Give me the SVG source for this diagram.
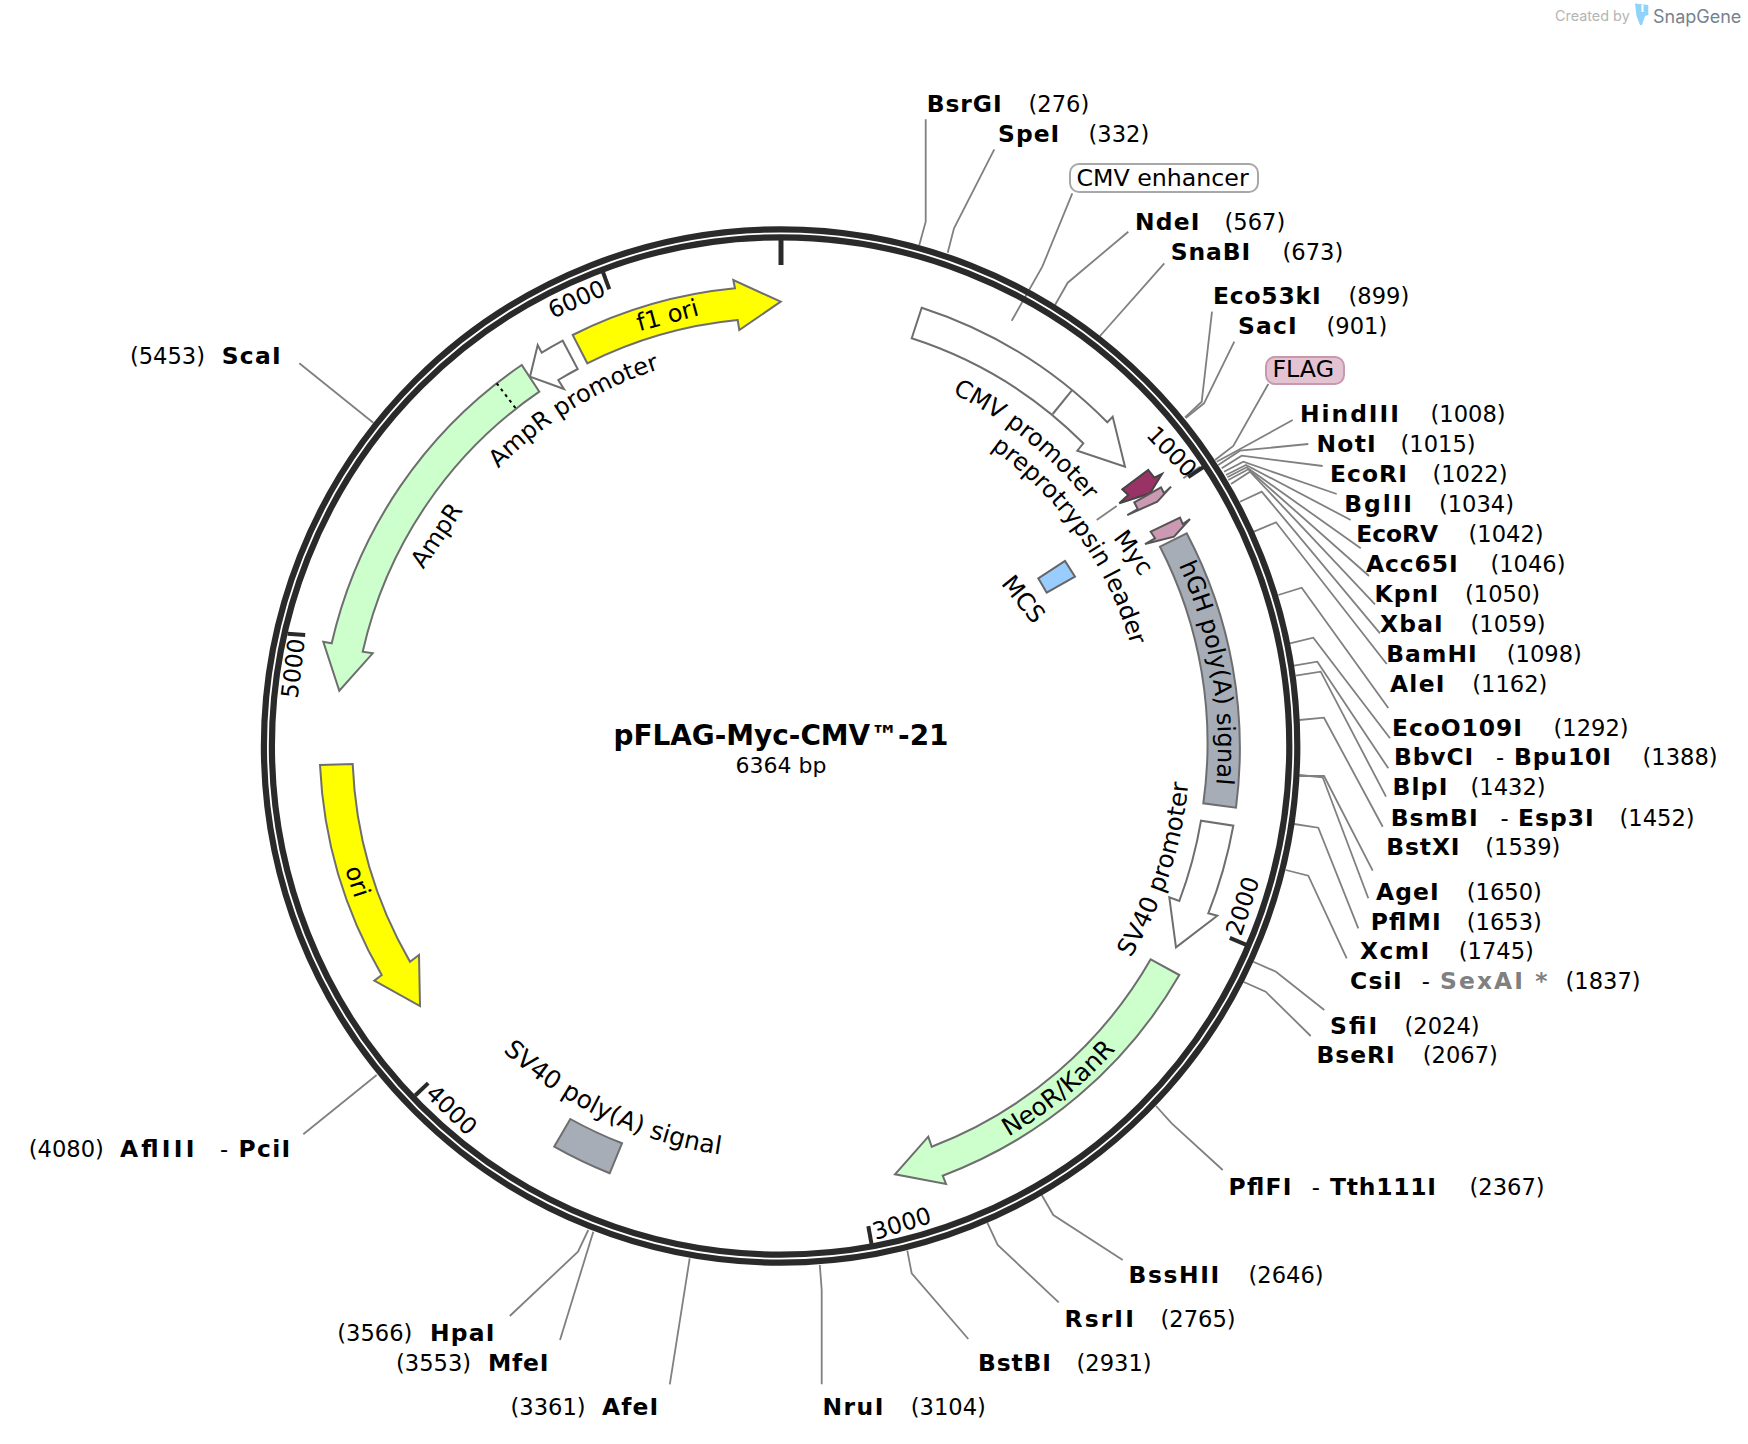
<svg xmlns="http://www.w3.org/2000/svg" width="1748" height="1444" viewBox="0 0 1748 1444">
<style>
text{font-family:"DejaVu Sans","Liberation Sans",sans-serif;fill:#000}
.n{font-weight:700;font-size:23.4px}
.p{font-size:22.6px}
.l{font-size:24.1px}
.k{font-size:23.5px}
.m{text-anchor:middle}
.f{stroke:#6e6e6e;stroke-width:2;stroke-linejoin:miter}
.c{fill:none;stroke:#808080;stroke-width:1.8}
.t{stroke:#2a2a2a;stroke-width:4}
</style>
<defs>
<path id="a-cmv" d="M837.6,358.1A392,392 0 0 1 1145.2,601.1"/>
<path id="a-pre" d="M932.5,415A364,364 0 0 1 1143.4,711.7"/>
<path id="a-hgh" d="M1140.3,497.2A437,437 0 0 1 1202.5,861.3"/>
<path id="a-sv" d="M1053.6,1050.9A409,409 0 0 0 1181.4,662.4"/>
<path id="a-neo" d="M851.7,1192.4A452,452 0 0 0 1203,908"/>
<path id="a-amp" d="M432.3,558.3A396,396 0 0 1 769.2,350.2"/>
<path id="a-svpa" d="M439.8,978.7A413,413 0 0 0 812,1157.8"/>
</defs>
<rect width="1748" height="1444" fill="#fff"/>
<g id="connectors">
<polyline class="c" points="925.7,119.3 925.7,221.7 919.3,245"/>
<polyline class="c" points="994.3,149.3 954,228.3 947.7,252.7"/>
<polyline class="c" points="1072.3,193.3 1042.3,266.7 1011.7,320.7"/>
<polyline class="c" points="1128.3,231.7 1067.7,282.7 1055,305"/>
<polyline class="c" points="1164.3,263.3 1100,336"/>
<polyline class="c" points="1212,311.7 1201.7,401.7 1185,417.3"/>
<polyline class="c" points="1234.3,341.7 1204,403.3 1185.7,418"/>
<polyline class="c" points="1268.3,384 1233.3,446 1215,460"/>
<polyline class="c" points="1292.7,420 1238.3,450 1216.7,461.7"/>
<polyline class="c" points="1308.3,444 1240,450.7 1218.3,465"/>
<polyline class="c" points="1322.7,466 1241.7,455.7 1221.7,468.3"/>
<polyline class="c" points="1336.7,494 1243.3,461.7 1224,471.7"/>
<polyline class="c" points="1350.7,520 1246,465 1226,475"/>
<polyline class="c" points="1360.7,548.3 1246.7,467.3 1227.3,477.3"/>
<polyline class="c" points="1369,576 1248.3,469.3 1228.3,480"/>
<polyline class="c" points="1375,604.3 1250,471.7 1231,484"/>
<polyline class="c" points="1380,633.3 1261.7,491.7 1240,501.7"/>
<polyline class="c" points="1386.7,664 1276,522.3 1254,531.7"/>
<polyline class="c" points="1388.3,708 1301.7,587.7 1278.3,595"/>
<polyline class="c" points="1390,738.3 1313.3,637.7 1290,643.3"/>
<polyline class="c" points="1388.3,768.3 1317.3,661.7 1294,665.7"/>
<polyline class="c" points="1386,796.7 1320.7,671.7 1295.7,675.7"/>
<polyline class="c" points="1382.7,826.7 1324,717.7 1299.3,720"/>
<polyline class="c" points="1372.7,870.7 1324,776 1299.3,776"/>
<polyline class="c" points="1368.3,898.3 1322.7,777.3 1299.3,775"/>
<polyline class="c" points="1358.3,928.3 1318.3,827.7 1294,824"/>
<polyline class="c" points="1346.7,958.3 1308.3,875.7 1285.7,870"/>
<polyline class="c" points="1324.3,1010 1276,971.7 1253.3,961.7"/>
<polyline class="c" points="1310.7,1036 1265.7,991.7 1243.3,981.7"/>
<polyline class="c" points="1222.7,1170 1171.7,1123.3 1156,1106"/>
<polyline class="c" points="1122.7,1260 1053.3,1215 1041.7,1195"/>
<polyline class="c" points="1058.7,1302.3 997.7,1245 987.3,1222.7"/>
<polyline class="c" points="968.3,1339 911.7,1273.3 907.3,1250.7"/>
<polyline class="c" points="821.7,1384.3 821.7,1290 819.8,1265"/>
<polyline class="c" points="669.8,1384.3 689.7,1258.3"/>
<polyline class="c" points="560,1340 593.3,1231.7"/>
<polyline class="c" points="509.8,1316 578,1251.7 588.3,1230"/>
<polyline class="c" points="303.3,1134.3 376.7,1075"/>
<polyline class="c" points="299.3,363.3 373.3,422.7"/>
<polyline class="c" points="1096.7,520 1116.7,506"/>
<polyline class="c" points="1183.3,478.3 1200,466.7"/>
</g>
<g id="backbone" fill="none" stroke="#2a2a2a" stroke-width="6.2">
<circle cx="780.6" cy="746" r="516.7"/>
<circle cx="780.6" cy="746" r="508.7"/>
</g>
<g id="ticks">
<line x1="781" y1="240" x2="781" y2="265" stroke="#2a2a2a" stroke-width="5"/>
<line class="t" x1="1203.3" y1="467.2" x2="1188.2" y2="477.1"/>
<line class="t" x1="1246.3" y1="944.9" x2="1229.8" y2="937.8"/>
<line class="t" x1="871.5" y1="1243.9" x2="868.3" y2="1226.1"/>
<line class="t" x1="415.2" y1="1095.5" x2="428.2" y2="1083.1"/>
<line class="t" x1="287.6" y1="633.7" x2="305.2" y2="635"/>
<line class="t" x1="603" y1="272.3" x2="609.3" y2="289.2"/>
<text class="k m" transform="translate(1171.7,451.7) rotate(46)" y="8">1000</text>
<text class="k m" transform="translate(1242.7,906) rotate(-72)" y="8">2000</text>
<text class="k m" transform="translate(901.8,1223.5) rotate(-17)" y="8">3000</text>
<text class="k m" transform="translate(451.6,1110) rotate(44)" y="8">4000</text>
<text class="k m" transform="translate(293.3,668.3) rotate(-83)" y="8">5000</text>
<text class="k m" transform="translate(576.7,299.3) rotate(-24)" y="8">6000</text>
</g>
<g id="f1-ori">
<path class="f" fill="#ffff00" d="M572.7,335A461,461 0 0 1 735,288.3L733.3,280L780.7,301.7L739.3,330L737.7,320A429,429 0 0 0 587.3,363.3Z"/>
<text class="l m" transform="translate(667.5,315.5) rotate(-15)" y="8">f1 ori</text>
</g>
<g id="AmpR-promoter">
<path class="f" fill="#fff" d="M562.7,340.7A461,461 0 0 0 541.7,352.7L537.7,345L530,376.7L564,389L558.3,380A429,429 0 0 1 577.7,369Z"/>
<text class="l m"><textPath href="#a-amp" startOffset="50%">AmpR promoter</textPath></text>
</g>
<g id="AmpR">
<path class="f" fill="#ccffcc" d="M521.7,365A461,461 0 0 0 331.7,643.3L323.3,641.7L339.3,690.7L372.7,653.3L362.7,651.7A429,429 0 0 1 539.3,391.7Z"/>
<line x1="496.7" y1="383.3" x2="515.7" y2="408.3" stroke="#000" stroke-width="2" stroke-dasharray="3 4"/>
<text class="l m" transform="translate(436.7,535.5) rotate(-56)" y="8">AmpR</text>
</g>
<g id="CMV-promoter">
<path class="f" fill="#fff" d="M921.7,307.7A461,461 0 0 1 1107.3,422.3L1112.7,416.7L1125,466.7L1077.3,450.7L1083.3,443.3A429,429 0 0 0 911.7,338.3Z"/>
<line class="f" x1="1071.7" y1="390.7" x2="1052.7" y2="414"/>
<text class="l m"><textPath href="#a-cmv" startOffset="50.5%">CMV promoter</textPath></text>
</g>
<g id="FLAG-site">
<path fill="#993366" stroke="#444" stroke-width="2" d="M1148.3,470L1154.3,477.7L1162,474L1150,493.3L1119.3,503.3L1128.3,495L1122.3,489.3Z"/>
</g>
<g id="Myc-preprotrypsin">
<path fill="#cc99b3" stroke="#555" stroke-width="2" d="M1134.3,502.3L1161,487.3L1164,493.3L1171,486.7L1157.3,501.7L1127.3,515L1137.7,509Z"/>
<path fill="#cc99b3" stroke="#555" stroke-width="2" d="M1150.7,531.7L1180,517.7L1182.7,524L1190,519L1174,536.7L1145,544L1155,538.3Z"/>
<text class="l m"><textPath href="#a-pre" startOffset="50%">preprotrypsin leader</textPath></text>
<text class="l m" transform="translate(1133.3,552.7) rotate(54)" y="8">Myc</text>
</g>
<g id="MCS">
<path fill="#99ccff" stroke="#666" stroke-width="2" d="M1038.3,578.3L1065,561L1075,576.7L1046.7,592.7Z"/>
<text class="l m" transform="translate(1023.3,599.3) rotate(51)" y="8">MCS</text>
</g>
<g id="hGH-polyA">
<path class="f" fill="#a6adb6" d="M1186.7,533.3A461,461 0 0 1 1236,807.7L1203.3,803.3A429,429 0 0 0 1160,546.7Z"/>
<text class="l m"><textPath href="#a-hgh" startOffset="50%">hGH poly(A) signal</textPath></text>
</g>
<g id="SV40-promoter">
<path class="f" fill="#fff" d="M1233.3,825.7A461,461 0 0 1 1208.3,913.3L1217.3,915.7L1176,947.3L1169.3,897.3L1179.3,901A429,429 0 0 0 1201,820.7Z"/>
<text class="m" font-size="24.6"><textPath href="#a-sv" startOffset="50%">SV40 promoter</textPath></text>
</g>
<g id="NeoR-KanR">
<path class="f" fill="#ccffcc" d="M1179.3,975A461,461 0 0 1 942.7,1175.7L946,1184L895,1174.3L928.3,1136.7L931.7,1146.7A429,429 0 0 0 1150.7,959.3Z"/>
<text class="m" font-size="24.8"><textPath href="#a-neo" startOffset="50%">NeoR/KanR</textPath></text>
</g>
<g id="SV40-polyA">
<path class="f" fill="#a6adb6" d="M570.3,1119A429,429 0 0 0 622,1143.3L609.7,1173.3A461,461 0 0 1 554.2,1146.7Z"/>
<text class="m" font-size="25"><textPath href="#a-svpa" startOffset="50.5%">SV40 poly(A) signal</textPath></text>
</g>
<g id="ori">
<path class="f" fill="#ffff00" d="M320,765A461,461 0 0 0 381.7,975L374.3,980.7L420,1006L419,955L410,961.7A429,429 0 0 1 352.7,764Z"/>
<text class="l m" transform="translate(357.5,881.5) rotate(72)" y="8">ori</text>
</g>
<g id="title">
<text class="m" x="781" y="745" font-weight="700" font-size="27.9">pFLAG-Myc-CMV™-21</text>
<text class="m" x="781" y="772.5" font-size="22">6364 bp</text>
</g>
<g id="CMV-enhancer">
<rect x="1070" y="164" width="188" height="28" rx="9" fill="#fff" stroke="#a8a8a8" stroke-width="2"/>
<text x="1076.5" y="186" font-size="23.7">CMV enhancer</text>
</g>
<g id="FLAG">
<rect x="1266" y="357" width="78" height="27" rx="9" fill="#e3c2d1" stroke="#c798ae" stroke-width="2"/>
<text x="1272.5" y="377.3" font-size="23.7">FLAG</text>
</g>
<g id="sites-top">
<g id="BsrGI"><text class="n" lengthAdjust="spacing" textLength="75" x="926.7" y="111.7">BsrGI</text><text class="p" x="1028.5" y="111.7">(276)</text></g>
<g id="SpeI"><text class="n" lengthAdjust="spacing" textLength="61.3" x="998" y="142">SpeI</text><text class="p" x="1088.5" y="142">(332)</text></g>
<g id="NdeI"><text class="n" lengthAdjust="spacing" textLength="64.5" x="1135" y="230.3">NdeI</text><text class="p" x="1224.5" y="230.3">(567)</text></g>
<g id="SnaBI"><text class="n" lengthAdjust="spacing" textLength="79.5" x="1170.7" y="260.3">SnaBI</text><text class="p" x="1282.5" y="260.3">(673)</text></g>
<g id="Eco53kI"><text class="n" lengthAdjust="spacing" textLength="107.6" x="1213" y="304.3">Eco53kI</text><text class="p" x="1348.5" y="304.3">(899)</text></g>
<g id="SacI"><text class="n" lengthAdjust="spacing" textLength="58.8" x="1238" y="334.3">SacI</text><text class="p" x="1326.5" y="334.3">(901)</text></g>
</g>
<g id="sites-right">
<g id="HindIII"><text class="n" lengthAdjust="spacing" textLength="98.9" x="1300" y="421.7">HindIII</text><text class="p" x="1430.5" y="421.7">(1008)</text></g>
<g id="NotI"><text class="n" lengthAdjust="spacing" textLength="59.3" x="1316.5" y="451.7">NotI</text><text class="p" x="1400.5" y="451.7">(1015)</text></g>
<g id="EcoRI"><text class="n" lengthAdjust="spacing" textLength="76.9" x="1330" y="481.7">EcoRI</text><text class="p" x="1432.4" y="481.7">(1022)</text></g>
<g id="BglII"><text class="n" lengthAdjust="spacing" textLength="67.7" x="1344.2" y="511.7">BglII</text><text class="p" x="1438.9" y="511.7">(1034)</text></g>
<g id="EcoRV"><text class="n" lengthAdjust="spacing" textLength="82" x="1356.2" y="541.7">EcoRV</text><text class="p" x="1468.5" y="541.7">(1042)</text></g>
<g id="Acc65I"><text class="n" lengthAdjust="spacing" textLength="91.7" x="1366" y="571.7">Acc65I</text><text class="p" x="1490.4" y="571.7">(1046)</text></g>
<g id="KpnI"><text class="n" lengthAdjust="spacing" textLength="63.8" x="1374.5" y="601.7">KpnI</text><text class="p" x="1465" y="601.7">(1050)</text></g>
<g id="XbaI"><text class="n" lengthAdjust="spacing" textLength="62.8" x="1380" y="631.7">XbaI</text><text class="p" x="1470.5" y="631.7">(1059)</text></g>
<g id="BamHI"><text class="n" lengthAdjust="spacing" textLength="90.6" x="1386.2" y="661.7">BamHI</text><text class="p" x="1506.7" y="661.7">(1098)</text></g>
<g id="AleI"><text class="n" lengthAdjust="spacing" textLength="54.5" x="1390" y="691.7">AleI</text><text class="p" x="1472.3" y="691.7">(1162)</text></g>
<g id="EcoO109I"><text class="n" lengthAdjust="spacing" textLength="130" x="1392" y="735.5">EcoO109I</text><text class="p" x="1553.5" y="735.5">(1292)</text></g>
<g id="BbvCI"><text class="n" lengthAdjust="spacing" textLength="79.1" x="1394" y="765">BbvCI</text><text class="p" x="1496" y="765">-</text><text class="n" lengthAdjust="spacing" textLength="96.9" x="1514" y="765">Bpu10I</text><text class="p" x="1642.5" y="765">(1388)</text></g>
<g id="BlpI"><text class="n" lengthAdjust="spacing" textLength="55" x="1392.5" y="795">BlpI</text><text class="p" x="1470.5" y="795">(1432)</text></g>
<g id="BsmBI"><text class="n" lengthAdjust="spacing" textLength="87" x="1390.7" y="825.5">BsmBI</text><text class="p" x="1500.5" y="825.5">-</text><text class="n" lengthAdjust="spacing" textLength="75.6" x="1518" y="825.5">Esp3I</text><text class="p" x="1619.5" y="825.5">(1452)</text></g>
<g id="BstXI"><text class="n" lengthAdjust="spacing" textLength="73.2" x="1386.3" y="855">BstXI</text><text class="p" x="1485.2" y="855">(1539)</text></g>
<g id="AgeI"><text class="n" lengthAdjust="spacing" textLength="62.8" x="1376" y="899.8">AgeI</text><text class="p" x="1466.8" y="899.8">(1650)</text></g>
<g id="PflMI"><text class="n" lengthAdjust="spacing" textLength="70" x="1370.7" y="929.8">PflMI</text><text class="p" x="1466.8" y="929.8">(1653)</text></g>
<g id="XcmI"><text class="n" lengthAdjust="spacing" textLength="69.3" x="1360" y="959.3">XcmI</text><text class="p" x="1458.8" y="959.3">(1745)</text></g>
<g id="CsiI"><text class="n" lengthAdjust="spacing" textLength="51.6" x="1350" y="989.3">CsiI</text><text class="p" x="1421.7" y="989.3">-</text><text class="n" lengthAdjust="spacing" textLength="107.6" x="1440" y="989.3" style="fill:#808080">SexAI *</text><text class="p" x="1565.5" y="989.3">(1837)</text></g>
<g id="SfiI"><text class="n" lengthAdjust="spacing" textLength="47.3" x="1330" y="1033.8">SfiI</text><text class="p" x="1404.5" y="1033.8">(2024)</text></g>
<g id="BseRI"><text class="n" lengthAdjust="spacing" textLength="78.3" x="1316.5" y="1063.3">BseRI</text><text class="p" x="1422.8" y="1063.3">(2067)</text></g>
<g id="PflFI"><text class="n" lengthAdjust="spacing" textLength="63" x="1228.5" y="1195">PflFI</text><text class="p" x="1311.7" y="1195">-</text><text class="n" lengthAdjust="spacing" textLength="106" x="1330" y="1195">Tth111I</text><text class="p" x="1469.5" y="1195">(2367)</text></g>
</g>
<g id="sites-bottom">
<g id="BssHII"><text class="n" lengthAdjust="spacing" textLength="90.7" x="1128.5" y="1283.3">BssHII</text><text class="p" x="1248.5" y="1283.3">(2646)</text></g>
<g id="RsrII"><text class="n" lengthAdjust="spacing" textLength="69.4" x="1064.5" y="1327.3">RsrII</text><text class="p" x="1160.5" y="1327.3">(2765)</text></g>
<g id="BstBI"><text class="n" lengthAdjust="spacing" textLength="73" x="978" y="1370.7">BstBI</text><text class="p" x="1076.5" y="1370.7">(2931)</text></g>
<g id="NruI"><text class="n" lengthAdjust="spacing" textLength="60.9" x="822.5" y="1414.7">NruI</text><text class="p" x="910.8" y="1414.7">(3104)</text></g>
<g id="AfeI"><text class="n" lengthAdjust="spacing" textLength="56.3" x="602" y="1414.7">AfeI</text><text class="p" x="510.5" y="1414.7">(3361)</text></g>
<g id="MfeI"><text class="n" lengthAdjust="spacing" textLength="60.4" x="488" y="1370.7">MfeI</text><text class="p" x="396" y="1370.7">(3553)</text></g>
<g id="HpaI"><text class="n" lengthAdjust="spacing" textLength="64.4" x="430" y="1340.7">HpaI</text><text class="p" x="337.3" y="1340.7">(3566)</text></g>
<g id="AflIII"><text class="n" lengthAdjust="spacing" textLength="74.4" x="120" y="1156.7">AflIII</text><text class="p" x="220" y="1156.7">-</text><text class="n" lengthAdjust="spacing" textLength="51.7" x="238.5" y="1156.7">PciI</text><text class="p" x="28.8" y="1156.7">(4080)</text></g>
<g id="ScaI"><text class="n" lengthAdjust="spacing" textLength="58.8" x="221.8" y="363.5">ScaI</text><text class="p" x="129.9" y="363.5">(5453)</text></g>
</g>
<g id="snapgene">
<text x="1555" y="20.5" font-size="14.4" style="font-family:Inter,'Liberation Sans',sans-serif;fill:#b5b5b5">Created by</text>
<path d="M1635,3.5L1648.3,5V15L1645,16L1642,25H1640L1636.5,16Z" fill="#8fd3fb"/>
<path d="M1641.5,4.5V12H1643.5V4.7Z" fill="#fff"/>
<text x="1653" y="22.5" font-size="18" style="font-family:Inter,'Liberation Sans',sans-serif;fill:#76838e">SnapGene</text>
</g>
</svg>
